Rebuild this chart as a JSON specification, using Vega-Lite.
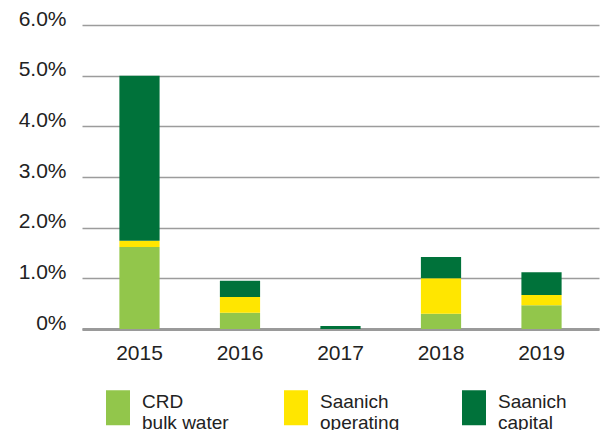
{
  "$schema": "https://vega.github.io/schema/vega-lite/v6.json",
  "width": 517,
  "height": 304,
  "autosize": {"type": "none"},
  "padding": {"left": 82, "top": 25, "right": 1, "bottom": 101},
  "background": "white",
  "data": {
    "values": [
      {"year": "2015", "type": "CRD bulk water", "rank": 1, "value": 1.62},
      {"year": "2015", "type": "Saanich operating", "rank": 2, "value": 0.12},
      {"year": "2015", "type": "Saanich capital", "rank": 3, "value": 3.26},
      {"year": "2016", "type": "CRD bulk water", "rank": 1, "value": 0.32},
      {"year": "2016", "type": "Saanich operating", "rank": 2, "value": 0.31},
      {"year": "2016", "type": "Saanich capital", "rank": 3, "value": 0.32},
      {"year": "2017", "type": "CRD bulk water", "rank": 1, "value": 0.0},
      {"year": "2017", "type": "Saanich operating", "rank": 2, "value": 0.0},
      {"year": "2017", "type": "Saanich capital", "rank": 3, "value": 0.06},
      {"year": "2018", "type": "CRD bulk water", "rank": 1, "value": 0.30},
      {"year": "2018", "type": "Saanich operating", "rank": 2, "value": 0.70},
      {"year": "2018", "type": "Saanich capital", "rank": 3, "value": 0.42},
      {"year": "2019", "type": "CRD bulk water", "rank": 1, "value": 0.47},
      {"year": "2019", "type": "Saanich operating", "rank": 2, "value": 0.20},
      {"year": "2019", "type": "Saanich capital", "rank": 3, "value": 0.45}
    ]
  },
  "config": {
    "view": {"stroke": null},
    "font": "Liberation Sans"
  },
  "mark": {"type": "bar"},
  "encoding": {
    "x": {
      "field": "year",
      "type": "nominal",
      "scale": {"paddingInner": 0.6, "paddingOuter": 0.372},
      "axis": {
        "title": null,
        "labelAngle": 0,
        "ticks": false,
        "tickSize": 0,
        "domain": true,
        "domainColor": "#9a9a9a",
        "domainWidth": 3,
        "labelFont": "Liberation Sans",
        "labelFontSize": 21,
        "labelColor": "#222222",
        "labelBaseline": "alphabetic",
        "labelPadding": 30,
        "grid": false
      }
    },
    "y": {
      "field": "value",
      "type": "quantitative",
      "stack": "zero",
      "scale": {"domain": [0, 6], "nice": false},
      "axis": {
        "title": null,
        "values": [0, 1, 2, 3, 4, 5, 6],
        "labelExpr": "datum.value == 0 ? '0%' : format(datum.value, '.1f') + '%'",
        "ticks": false,
        "tickSize": 0,
        "domain": false,
        "grid": true,
        "gridColor": "#9c9c9c",
        "gridWidth": 1.5,
        "labelFont": "Liberation Sans",
        "labelFontSize": 21,
        "labelColor": "#222222",
        "labelBaseline": "alphabetic",
        "labelPadding": 16
      }
    },
    "order": {"field": "rank", "type": "quantitative", "sort": "ascending"},
    "color": {
      "field": "type",
      "type": "nominal",
      "scale": {
        "domain": ["CRD bulk water", "Saanich operating", "Saanich capital"],
        "range": ["#92c64b", "#ffe600", "#00723a"]
      },
      "legend": {
        "title": null,
        "orient": "none",
        "legendX": 18.5,
        "legendY": 365,
        "direction": "horizontal",
        "columns": 3,
        "gridAlign": "all",
        "columnPadding": 49,
        "symbolType": "M-0.686,-1H0.686V1H-0.686Z",
        "symbolSize": 1225,
        "symbolStrokeWidth": 0,
        "symbolOpacity": 1,
        "labelOffset": 6.5,
        "labelFont": "Liberation Sans",
        "labelFontSize": 19,
        "labelColor": "#222222",
        "labelBaseline": "alphabetic",
        "labelLimit": 300,
        "labelExpr": "split(replace(datum.label, ' ', '|'), '|')"
      }
    }
  }
}
